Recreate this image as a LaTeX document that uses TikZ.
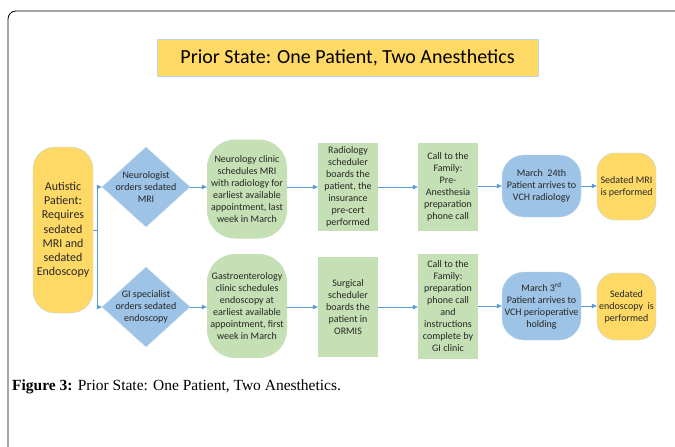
\documentclass[tikz,border=0pt]{standalone}
\usepackage{fontspec}
\setmainfont{Carlito}
\newfontfamily\capfont{Liberation Serif}
\usetikzlibrary{shapes.geometric}
\usetikzlibrary{arrows.meta}

\definecolor{gold}{HTML}{FFD966}
\definecolor{leaf}{HTML}{C5E0B4}
\definecolor{sky}{HTML}{9DC3E6}
\definecolor{edgeblue}{HTML}{5B9BD5}
\definecolor{rim}{HTML}{BDD7EE}

\tikzset{
  boxtext/.style={align=center, inner sep=0pt, text=black!85, font=\fontsize{10}{12}\selectfont},
  patientbox/.style={boxtext, fill=gold, draw=rim, rounded corners=22pt,
    minimum width=60pt, minimum height=166pt, font=\fontsize{12}{14.2}\selectfont},
  decision/.style={boxtext, diamond, aspect=1.1, fill=sky, draw=rim, inner sep=-4pt,
    minimum width=88pt, minimum height=80pt},
  clinic/.style={boxtext, fill=leaf, rounded corners=28pt, minimum width=80pt},
  task/.style={boxtext, fill=leaf, minimum width=60pt},
  arrival/.style={boxtext, fill=sky, draw=rim, rounded corners=22pt, minimum width=79pt},
  outcome/.style={boxtext, fill=gold, draw=rim, rounded corners=18pt,
    minimum width=59pt, minimum height=67pt},
  flow/.style={draw=edgeblue, line width=0.6pt, -{Triangle[length=5pt,width=4.5pt]}},
  link/.style={draw=edgeblue, line width=0.6pt}
}

\begin{document}
\begin{tikzpicture}[x=1pt, y=-1pt]
    \useasboundingbox (0,0) rectangle (675,447);

    % Draw the frame
    \draw[line width=0.8pt, rounded corners=8pt] (700,11) -- (8,11) -- (8,470);

    % Draw the title
    \node[fill=gold, draw=rim, minimum width=381pt, minimum height=37pt,
      font=\fontsize{20}{22}\selectfont] (title) at (347.5,57.5)
      {Prior State: One Patient, Two Anesthetics};

    % Draw the patient and the two orders
    \node[patientbox] (patient) at (63,230)
      {Autistic\\Patient:\\Requires\\sedated\\MRI and\\sedated\\Endoscopy};
    \node[decision] (neuro) at (146,187) {Neurologist\\orders sedated\\MRI};
    \node[decision] (gi) at (146,307) {GI specialist\\orders sedated\\endoscopy};

    % Draw the MRI path (top)
    \node[clinic, minimum height=99pt] (mriclinic) at (247,189)
      {Neurology clinic\\schedules MRI\\with radiology for\\earliest available\\appointment, last\\week in March};
    \node[task, minimum height=88pt] (radsched) at (348,187)
      {Radiology\\scheduler\\boards the\\patient, the\\insurance\\pre-cert\\performed};
    \node[task, minimum height=88pt] (mricall) at (448,187)
      {Call to the\\Family:\\Pre-\\Anesthesia\\preparation\\phone call};
    \node[arrival, minimum height=62pt] (mriarrive) at (541.5,186)
      {March~~24th\\Patient arrives to\\VCH radiology};
    \node[outcome] (mridone) at (626.5,186.5) {Sedated MRI\\is performed};

    % Draw the endoscopy path (bottom)
    \node[clinic, minimum height=104pt] (giclinic) at (247,306)
      {Gastroenterology\\clinic schedules\\endoscopy at\\earliest available\\appointment, first\\week in March};
    \node[task, minimum height=100pt] (surgsched) at (348,307)
      {Surgical\\scheduler\\boards the\\patient in\\ORMIS};
    \node[task, minimum height=105pt] (gicall) at (448,306.5)
      {Call to the\\Family:\\preparation\\phone call\\and\\instructions\\complete by\\GI clinic};
    \node[arrival, minimum height=68pt] (giarrive) at (541.5,306)
      {March 3\textsuperscript{rd}\\Patient arrives to\\VCH perioperative\\holding};
    \node[outcome] (gidone) at (626.5,306.5) {Sedated\\endoscopy~ is\\performed};

    % Draw the connectors
    \coordinate (split) at (97,230);
    \draw[link] (patient.east) -- (split);
    \draw[flow] (split) |- (neuro.west);
    \draw[flow] (split) |- (gi.west);
    \draw[flow] (neuro.east) -- (neuro.east -| mriclinic.west);
    \draw[flow] (mriclinic.east |- radsched.west) -- (radsched.west);
    \draw[flow] (radsched.east) -- (mricall.west);
    \draw[flow] (mricall.east |- mriarrive.west) -- (mriarrive.west);
    \draw[flow] (mriarrive.east) -- (mriarrive.east -| mridone.west);
    \draw[flow] (gi.east) -- (gi.east -| giclinic.west);
    \draw[flow] (giclinic.east |- surgsched.west) -- (surgsched.west);
    \draw[flow] (surgsched.east) -- (surgsched.east -| gicall.west);
    \draw[flow] (gicall.east |- giarrive.west) -- (giarrive.west);
    \draw[flow] (giarrive.east) -- (giarrive.east -| gidone.west);

    % Add the caption
    \node[anchor=west, inner sep=0pt, font=\capfont\fontsize{15.5}{18}\selectfont]
      (caption) at (12,387) {\textbf{Figure 3:} Prior State: One Patient, Two Anesthetics.};

\end{tikzpicture}
\end{document}
